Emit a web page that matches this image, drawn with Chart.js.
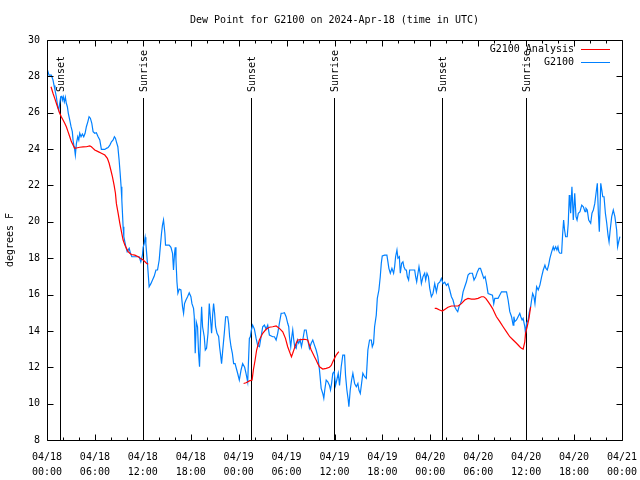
<!DOCTYPE html>
<html>
<head>
<meta charset="utf-8">
<script src="https://cdn.jsdelivr.net/npm/chart.js@4.4.1/dist/chart.umd.min.js"></script>
<style>
  body { margin: 0; background: #fff; }
</style>
</head>
<body>
<canvas id="dew" width="640" height="480"></canvas>
<script>
// hours since 04/18 00:00 UTC and dew point (F)
const blueHours = [0.00,0.25,0.54,0.75,0.88,1.00,1.17,1.34,1.47,1.59,1.72,1.84,1.92,2.04,2.17,2.30,2.42,2.55,2.67,2.85,
  3.01,3.17,3.26,3.39,3.47,3.55,3.68,3.85,3.98,4.10,4.26,4.43,4.60,4.77,4.93,5.11,5.27,5.43,5.61,5.77,
  5.98,6.18,6.40,6.61,6.81,7.02,7.24,7.44,7.65,7.87,8.07,8.28,8.44,8.57,8.69,8.87,9.03,9.16,9.28,9.37,
  9.45,9.53,9.62,9.75,9.87,10.04,10.29,10.45,10.62,11.20,11.54,11.75,11.95,12.04,12.17,12.29,12.38,12.58,12.79,13.01,
  13.21,13.42,13.64,13.84,14.05,14.17,14.34,14.46,14.59,14.76,14.84,15.30,15.52,15.72,15.84,15.97,16.06,16.15,16.27,16.39,
  16.56,16.77,16.97,17.10,17.22,17.40,17.60,17.81,18.02,18.15,18.35,18.44,18.56,18.69,18.85,18.98,19.10,19.23,19.36,19.48,
  19.69,19.82,19.98,20.16,20.32,20.45,20.61,20.74,20.86,20.99,21.11,21.29,21.49,21.61,21.74,21.86,21.99,22.20,22.37,22.62,
  22.74,22.87,23.04,23.21,23.37,23.55,23.67,23.87,24.08,24.30,24.50,24.75,24.92,25.13,25.34,25.46,25.59,25.75,25.97,26.18,
  26.38,26.60,26.81,27.01,27.22,27.44,27.64,27.85,28.26,28.48,28.69,28.89,29.10,29.32,29.52,29.73,29.94,30.14,30.27,30.36,
  30.52,30.65,30.77,30.90,31.02,31.20,31.36,31.52,31.70,31.86,32.03,32.24,32.45,32.65,32.86,33.08,33.28,33.49,33.70,33.91,
  34.12,34.33,34.53,34.66,34.78,34.96,35.16,35.37,35.50,35.63,35.79,35.96,36.13,36.29,36.47,36.63,36.84,37.04,37.26,37.38,
  37.55,37.72,37.80,37.97,38.14,38.30,38.52,38.73,38.93,39.06,39.23,39.39,39.55,39.77,39.98,40.18,40.39,40.61,40.73,40.89,
  41.02,41.23,41.36,41.56,41.73,41.86,41.98,42.27,42.56,42.69,42.81,42.99,43.19,43.40,43.53,43.65,43.82,43.94,44.12,44.24,
  44.41,44.57,44.69,44.87,45.00,45.12,45.28,45.41,46.04,46.16,46.29,46.45,46.58,46.75,46.88,47.08,47.29,47.42,47.58,47.76,
  47.92,48.13,48.33,48.55,48.76,48.96,49.17,49.38,49.59,49.80,50.01,50.21,50.43,50.64,50.84,51.05,51.27,51.43,51.59,51.77,
  51.93,52.10,52.31,52.52,52.72,52.93,53.27,53.47,53.69,53.90,54.10,54.28,54.48,54.69,54.86,55.03,55.23,55.78,55.94,56.07,
  56.48,56.70,56.91,57.54,57.74,57.95,58.17,58.37,58.46,58.58,58.79,58.99,59.20,59.33,59.49,59.62,59.83,59.92,60.05,60.25,
  60.38,60.56,60.68,60.81,60.97,61.10,61.31,61.51,61.72,61.94,62.14,62.35,62.48,62.64,62.81,62.97,63.19,63.39,63.51,63.69,
  63.85,63.98,64.10,64.23,64.44,64.56,64.69,64.81,64.94,65.14,65.27,65.40,65.48,65.57,65.73,65.82,65.90,66.08,66.24,66.37,
  66.53,66.74,66.96,67.16,67.37,67.49,67.65,67.83,68.08,68.24,68.41,68.59,68.75,68.91,69.04,69.16,69.34,69.47,69.59,69.75,
  69.92,70.09,70.25,70.38,70.50,70.71,70.91,71.11,71.33,71.45,71.58,71.74];
const blueValues = [28.44,28.07,28.07,27.8,27.5,27.25,26.88,26.33,26.15,26.52,26.88,26.9,26.7,26.88,26.6,26.85,26.52,26.33,25.97,25.6,
  25.23,24.96,24.5,24.13,23.95,23.67,24.3,24.68,24.5,24.87,24.68,24.83,24.68,24.87,25.23,25.5,25.78,25.7,25.42,24.96,
  24.87,24.9,24.68,24.5,23.98,23.98,23.98,24.04,24.08,24.22,24.4,24.5,24.68,24.6,24.4,24.13,23.4,22.67,21.93,21.2,
  20.47,19.73,19.18,18.9,18.63,18.36,18.54,18.27,18.08,18.08,18.08,17.8,18.17,18.6,18.8,19.15,18.8,17.7,16.43,16.6,
  16.8,17.0,17.35,17.35,17.9,18.54,19.37,19.82,20.1,19.37,18.72,18.72,18.6,18.26,17.35,18.26,18.6,17.9,16.7,16.07,
  16.3,16.25,15.33,14.97,15.5,15.7,15.88,16.1,15.88,15.5,15.24,14.78,12.77,14.5,14.23,12.77,12.03,13.87,15.33,14.23,
  13.68,12.95,13.05,13.87,15.5,14.78,13.87,14.87,15.5,14.97,14.23,13.87,13.7,13.13,12.67,12.2,12.86,13.87,14.78,14.78,
  14.42,13.68,13.13,12.77,12.2,12.2,12.0,11.67,11.3,11.85,12.2,12.0,11.67,11.2,13.59,13.68,14.05,14.32,14.1,13.6,
  13.2,13.13,13.68,14.23,14.32,14.1,14.32,13.77,13.68,13.68,13.5,13.87,14.42,14.97,14.97,15.0,14.78,14.42,14.23,13.68,
  13.13,13.68,14.05,13.5,13.13,13.04,13.5,13.32,13.5,13.13,13.5,14.05,14.05,13.5,13.04,13.32,13.5,13.22,12.95,12.58,
  11.85,10.84,10.56,10.29,10.75,11.3,11.2,11.0,10.75,11.1,11.67,11.76,11.0,11.3,11.67,11.0,12.03,12.67,12.67,11.57,
  10.75,10.2,9.83,10.75,11.3,11.67,11.11,10.93,11.11,10.75,10.56,11.11,11.67,11.48,11.39,12.95,13.5,13.5,13.13,13.32,
  14.23,14.87,15.79,16.25,16.98,17.72,18.12,18.17,18.17,17.8,17.44,17.17,17.44,17.17,17.53,18.08,18.45,18.0,18.08,17.17,
  17.72,17.8,17.53,17.35,17.35,16.98,16.8,17.35,17.35,16.98,16.7,17.17,17.53,17.08,16.6,16.98,17.17,16.8,17.17,16.98,
  16.35,15.88,16.06,16.6,16.15,16.6,16.68,16.89,16.6,16.68,16.5,16.6,16.25,15.88,15.7,15.33,15.15,15.06,15.33,15.5,
  15.7,16.15,16.43,16.7,17.07,17.17,17.17,16.8,16.98,17.26,17.44,17.44,17.17,16.89,16.98,16.6,16.06,15.97,15.5,15.79,
  15.79,15.97,16.15,16.15,15.7,15.06,14.78,14.32,14.78,14.51,14.6,14.78,14.97,14.78,14.6,14.69,14.23,13.87,14.42,14.6,
  15.0,15.33,15.7,16.06,15.88,15.5,16.43,16.25,16.52,16.98,17.35,17.62,17.44,17.35,17.62,17.99,18.35,18.63,18.45,18.63,
  18.45,18.63,18.35,18.27,18.27,19.27,20.1,19.55,19.18,19.18,19.92,21.47,21.1,20.47,21.93,21.0,20.1,21.57,20.28,20.1,
  20.47,20.56,20.92,20.83,20.56,20.74,20.65,20.1,19.92,20.47,20.65,21.0,21.57,22.12,20.47,19.46,22.12,21.75,21.38,21.38,
  20.47,19.92,19.27,18.9,19.46,20.28,20.65,20.28,19.55,18.63,18.9,19.18];

// analysis runs, null = gap between runs
const redHours = [0.50,0.75,0.97,1.17,1.38,1.59,1.79,2.01,2.22,2.42,2.63,2.85,3.05,3.26,3.47,3.68,4.10,4.52,4.93,5.36,
  5.56,5.77,5.98,6.40,6.81,7.24,7.56,7.78,7.99,8.19,8.40,8.57,8.69,8.91,9.12,9.32,9.53,9.75,9.95,10.16,
  10.37,10.57,11.00,11.42,11.70,12.04,12.46,12.67,
  18.00,
  24.62,24.92,25.34,25.68,25.84,26.06,26.25,26.59,27.01,27.43,27.85,28.26,28.69,29.10,29.52,29.86,30.14,30.44,30.61,30.77,
  30.98,31.20,31.40,31.82,32.24,32.65,32.86,33.08,33.28,33.49,33.70,33.91,34.12,34.53,34.96,35.37,35.59,35.79,36.00,36.21,36.54,
  42.00,
  48.55,48.76,49.17,49.51,49.80,50.21,50.64,51.05,51.47,51.89,52.31,52.72,53.15,53.56,53.98,54.40,54.69,54.94,55.23,55.53,
  55.78,56.07,56.28,56.70,57.11,57.54,57.95,58.37,58.79,59.20,59.41,59.62,59.83,59.92,60.13,60.35,60.56];
const redValues = [27.43,27.07,26.79,26.52,26.24,25.97,25.78,25.6,25.42,25.23,24.96,24.68,24.41,24.22,24.04,24.06,24.1,24.12,24.13,24.17,
  24.13,24.04,23.95,23.86,23.77,23.67,23.49,23.22,22.85,22.48,22.02,21.57,21.0,20.47,19.92,19.46,19.0,18.72,18.54,18.36,
  18.27,18.2,18.17,18.08,17.99,17.9,17.72,17.66,
  null,
  11.11,11.15,11.25,11.3,11.85,12.4,12.95,13.5,13.87,14.09,14.2,14.23,14.27,14.14,13.95,13.59,13.13,12.77,12.58,12.77,
  13.04,13.32,13.5,13.52,13.54,13.5,13.22,12.95,12.77,12.58,12.4,12.2,12.03,11.9,11.94,12.0,12.1,12.3,12.49,12.67,12.86,
  null,
  15.24,15.24,15.15,15.09,15.18,15.3,15.37,15.37,15.37,15.5,15.7,15.79,15.75,15.75,15.79,15.88,15.88,15.79,15.61,15.42,
  15.24,14.97,14.78,14.51,14.23,13.95,13.68,13.5,13.32,13.13,13.04,13.0,13.4,13.87,14.23,14.69,15.33];

// sun events (hours since 04/18 00:00)
const eventHours = [1.58, 12.08, 25.5, 35.95, 49.45, 59.95];
const eventNames = ['Sunset', 'Sunrise', 'Sunset', 'Sunrise', 'Sunset', 'Sunrise'];

// x tick labels, every 6 hours
const dateLabels = ['04/18','04/18','04/18','04/18','04/19','04/19','04/19','04/19','04/20','04/20','04/20','04/20','04/21'];
const timeLabels = ['00:00','06:00','12:00','18:00','00:00','06:00','12:00','18:00','00:00','06:00','12:00','18:00','00:00'];

const FONT = 'DejaVu Sans Mono';
Chart.defaults.font.family = FONT;
Chart.defaults.font.size = 10;
Chart.defaults.color = '#000';

function toPoints(hours, values) {
  return hours.map((h, i) => ({ x: h, y: values[i] }));
}

// frame, inward ticks, sun lines and the legend gnuplot-style
const gnuplotLook = {
  id: 'gnuplotLook',
  beforeDatasetsDraw(chart) {
    const { ctx, chartArea: a, scales } = chart;
    ctx.save();
    ctx.strokeStyle = '#000';
    ctx.fillStyle = '#000';
    ctx.lineWidth = 1;
    ctx.font = '10px "' + FONT + '"';
    eventHours.forEach((h, i) => {
      const px = Math.round(scales.x.getPixelForValue(h)) + 0.5;
      ctx.beginPath();
      ctx.moveTo(px, a.top + 58);
      ctx.lineTo(px, a.bottom);
      ctx.stroke();
      ctx.save();
      ctx.translate(px + 1, a.top + 52);
      ctx.rotate(-Math.PI / 2);
      ctx.textAlign = 'left';
      ctx.textBaseline = 'middle';
      ctx.fillText(eventNames[i], 0, 0);
      ctx.restore();
    });
    ctx.restore();
  },
  afterDatasetsDraw(chart) {
    const { ctx, chartArea: a, scales } = chart;
    const L = Math.round(a.left) + 0.5, R = Math.round(a.right) + 0.5;
    const T = Math.round(a.top) + 0.5, B = Math.round(a.bottom) + 0.5;
    ctx.save();
    ctx.strokeStyle = '#000';
    ctx.lineWidth = 1;
    ctx.beginPath();
    ctx.rect(L, T, R - L, B - T);
    // x ticks: major every 6 h, minor every 2 h
    for (let v = 0; v <= 72; v += 2) {
      const px = Math.round(scales.x.getPixelForValue(v)) + 0.5;
      const len = v % 6 === 0 ? 6 : 3;
      ctx.moveTo(px, B); ctx.lineTo(px, B - len);
      ctx.moveTo(px, T); ctx.lineTo(px, T + len);
    }
    scales.y.ticks.forEach(t => {
      const py = Math.round(scales.y.getPixelForValue(t.value)) + 0.5;
      ctx.moveTo(L, py); ctx.lineTo(L + 6, py);
      ctx.moveTo(R, py); ctx.lineTo(R - 6, py);
    });
    ctx.stroke();

    // legend, top right inside the plot
    ctx.font = '10px "' + FONT + '"';
    ctx.textAlign = 'right';
    ctx.textBaseline = 'middle';
    chart.data.datasets.forEach((ds, i) => {
      const ly = a.top + 9.5 + i * 13;
      ctx.fillStyle = '#000';
      ctx.fillText(ds.label, a.right - 48, ly);
      ctx.strokeStyle = ds.borderColor;
      ctx.beginPath();
      ctx.moveTo(a.right - 41, ly);
      ctx.lineTo(a.right - 12, ly);
      ctx.stroke();
    });
    ctx.restore();
  }
};

const ctx = document.getElementById('dew').getContext('2d');
const dewChart = new Chart(ctx, {
  type: 'line',
  data: {
    datasets: [
      {
        label: 'G2100 Analysis',
        data: toPoints(redHours, redValues),
        borderColor: '#ff0000',
        borderWidth: 1.2,
        pointRadius: 0,
        spanGaps: false
      },
      {
        label: 'G2100',
        data: toPoints(blueHours, blueValues),
        borderColor: '#0080ff',
        borderWidth: 1.2,
        pointRadius: 0
      }
    ]
  },
  options: {
    responsive: false,
    animation: false,
    devicePixelRatio: 1,
    layout: { padding: { left: 0, right: 18, top: 0, bottom: 0 } },
    plugins: {
      legend: { display: false },
      tooltip: { enabled: false },
      title: {
        display: true,
        fullSize: false,
        text: 'Dew Point for G2100 on 2024-Apr-18 (time in UTC)',
        font: { size: 10, weight: 'normal' },
        padding: { top: 14, bottom: 14 }
      }
    },
    scales: {
      x: {
        type: 'linear',
        min: 0,
        max: 72,
        grid: { display: false, drawTicks: false },
        border: { display: false },
        ticks: {
          stepSize: 6,
          autoSkip: false,
          maxRotation: 0,
          padding: 10,
          font: { size: 10, lineHeight: '15px' },
          callback: v => [dateLabels[v / 6], timeLabels[v / 6]]
        },
        afterFit: s => { s.height = 40; s.paddingLeft = 0; s.paddingRight = 0; }
      },
      y: {
        min: 8,
        max: 30,
        grid: { display: false, drawTicks: false },
        border: { display: false },
        ticks: { stepSize: 2, padding: 7 },
        title: { display: true, text: 'degrees F', font: { size: 10 }, padding: { top: 4, bottom: 4 } },
        afterFit: s => { s.width = 47; }
      }
    }
  },
  plugins: [gnuplotLook]
});
</script>
</body>
</html>
